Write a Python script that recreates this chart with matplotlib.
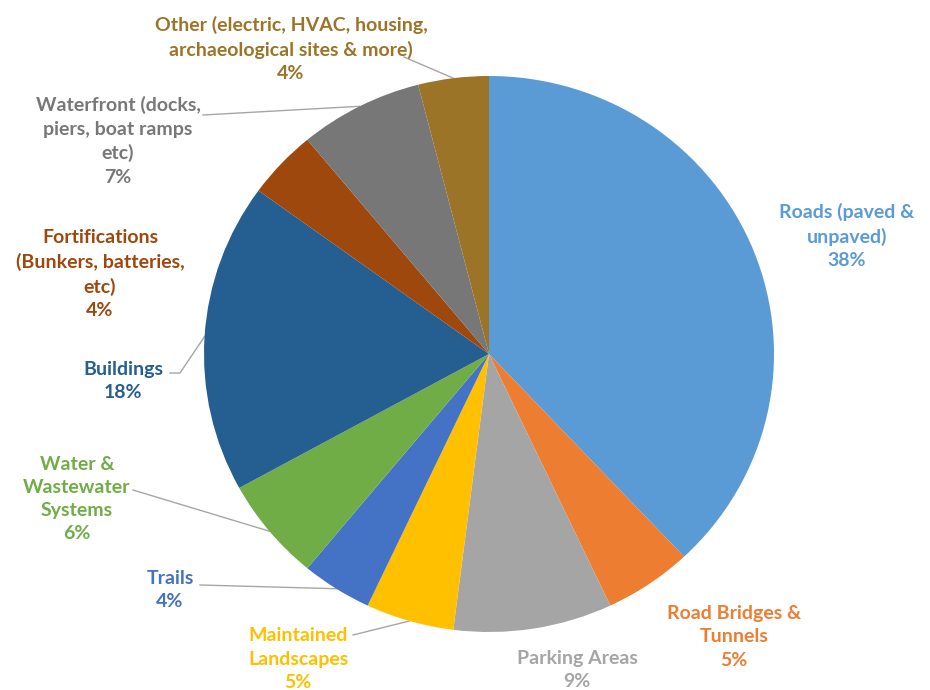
import numpy as np
import matplotlib
matplotlib.use("Agg")
import matplotlib.pyplot as plt

# ---- data ----
categories = [
    "Roads (paved &\nunpaved)",
    "Road Bridges &\nTunnels",
    "Parking Areas",
    "Maintained\nLandscapes",
    "Trails",
    "Water &\nWastewater\nSystems",
    "Buildings",
    "Fortifications\n(Bunkers, batteries,\netc)",
    "Waterfront (docks,\npiers, boat ramps\netc)",
    "Other (electric, HVAC, housing,\narchaeological sites & more)",
]
values = [38, 5, 9, 5, 4, 6, 18, 4, 7, 4]
colors = ["#5B9BD5", "#ED7D31", "#A5A5A5", "#FFC000", "#4472C4",
          "#70AD47", "#255E91", "#9E480E", "#777777", "#9C7428"]

# ---- layout (pixels) ----
W, H = 930, 690
CX, CY = 489, 354          # pie centre in pixels
RX, RY = 285, 278          # pie radii in pixels (slightly stretched image)

# label block centres (pixels)
label_pos = [
    (847, 236), (734, 637), (577, 670), (298, 659), (170, 590),
    (77, 499), (123, 381), (100, 274), (118, 141), (291, 49),
]
# leader line start points (pixels) - None means no leader
leader_pts = [
    None, None, None,
    [(353, 635)],
    [(200, 585)],
    [(133, 490)],
    [(170, 373), (180, 373)],
    None,
    [(203, 115)],
    [(404, 57)],
]


def px(x, y):
    """pixel (top-left origin) -> data coords"""
    return (x - CX) / RX, (CY - y) / RY


fig = plt.figure(figsize=(W / 100, H / 100), dpi=100)
ax = fig.add_axes([0, 0, 1, 1])
wedges, _ = ax.pie(values, colors=colors, startangle=90, counterclock=False,
                   radius=1, wedgeprops=dict(linewidth=0))
ax.set_aspect("auto")
ax.set_xlim(-CX / RX, (W - CX) / RX)
ax.set_ylim(-(H - CY) / RY, CY / RY)
ax.axis("off")

for i, (w, v, lab) in enumerate(zip(wedges, values, categories)):
    tx, ty = px(*label_pos[i])
    ax.text(tx, ty, f"{lab}\n{v}%", ha="center", va="center",
            multialignment="center", color=colors[i], fontsize=14,
            fontweight="bold", family=["Lato", "DejaVu Sans"],
            linespacing=1.45)
    if leader_pts[i] is not None:
        mid = np.deg2rad((w.theta1 + w.theta2) / 2)
        pts = [px(*p) for p in leader_pts[i]] + [(np.cos(mid), np.sin(mid))]
        xs, ys = zip(*pts)
        ax.plot(xs, ys, color="#A6A6A6", lw=1.0, zorder=0.5)

fig.savefig("out.png", dpi=100, facecolor="white")
